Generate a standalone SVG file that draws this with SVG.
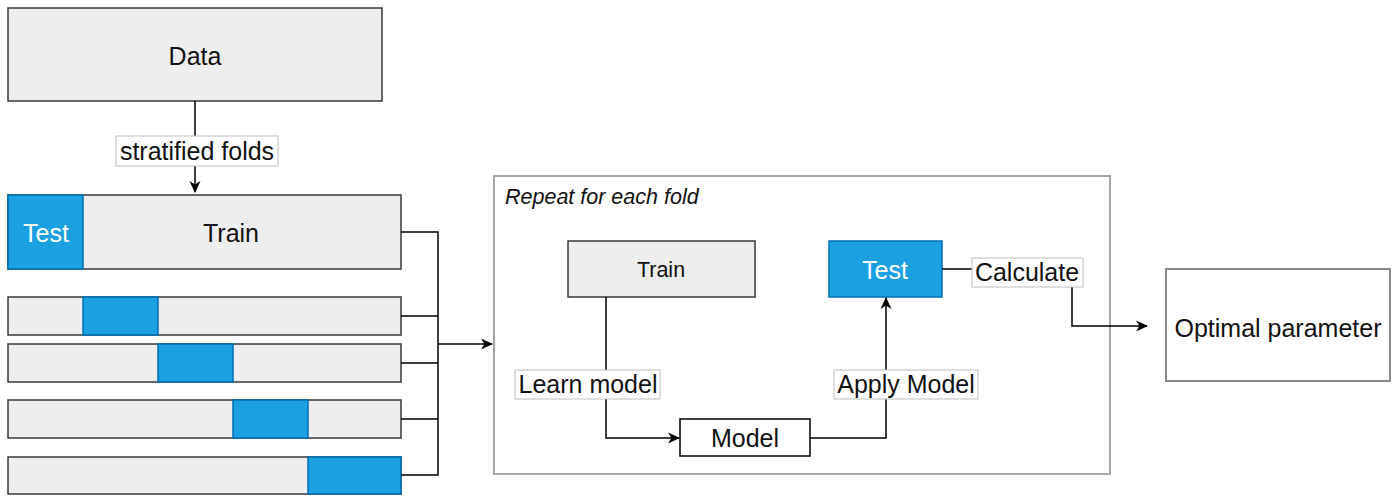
<svg xmlns="http://www.w3.org/2000/svg" width="1397" height="496" viewBox="0 0 1397 496">
<style>
text{font-family:"Liberation Sans",Arial,sans-serif;font-size:25px;fill:#111;text-anchor:middle}
.g{fill:#eeeeee;stroke:#36393d;stroke-width:1.5}
.b{fill:#1ba1e2;stroke:#006eaf;stroke-width:1.5}
.w{fill:#fff}
.lbl{fill:#fff;stroke:#bdbdbd;stroke-width:1}
.e{fill:none;stroke:#000;stroke-width:1.5}
</style>
<defs>
<marker id="ah" markerWidth="14" markerHeight="14" refX="12" refY="7" orient="auto" markerUnits="userSpaceOnUse">
<path d="M1,1.5 L13,7 L1,12.5 L4.5,7 Z" fill="#000"/>
</marker>
</defs>
<g id="data"><rect class="g" x="8" y="8" width="374" height="93"/><text x="195" y="65">Data</text></g>
<g id="fold1"><rect class="g" x="8" y="195" width="393" height="74"/><rect class="b" x="8" y="195" width="75" height="74"/><text class="w" x="46" y="242">Test</text><text x="231" y="242">Train</text></g>
<g id="fold2"><rect class="g" x="8" y="297" width="393" height="38"/><rect class="b" x="83" y="297" width="75" height="38"/></g>
<g id="fold3"><rect class="g" x="8" y="344" width="393" height="38"/><rect class="b" x="158" y="344" width="75" height="38"/></g>
<g id="fold4"><rect class="g" x="8" y="400" width="393" height="38"/><rect class="b" x="233" y="400" width="75" height="38"/></g>
<g id="fold5"><rect class="g" x="8" y="457" width="393" height="37"/><rect class="b" x="308" y="457" width="93" height="37"/></g>
<g id="container"><rect x="494" y="176" width="616" height="298" fill="#fff" stroke="#a6a6a6" stroke-width="2"/><text x="505" y="204" style="font-size:21.5px;font-style:italic;text-anchor:start">Repeat for each fold</text></g>
<g id="train"><rect class="g" x="568" y="241" width="187" height="56"/><text x="661" y="277" style="font-size:21.5px">Train</text></g>
<g id="test"><rect class="b" x="829" y="241" width="113" height="56"/><text class="w" x="885" y="279">Test</text></g>
<g id="model"><rect x="680" y="419" width="130" height="37" fill="#fff" stroke="#000" stroke-width="1.5"/><text x="745" y="447">Model</text></g>
<g id="optimal"><rect x="1166" y="269" width="224" height="112" fill="#fff" stroke="#888" stroke-width="2"/><text x="1278" y="337">Optimal parameter</text></g>
<g id="connectors">
<path class="e" d="M195,101 V192" marker-end="url(#ah)"/>
<rect class="lbl" x="116" y="136" width="162" height="30"/><text x="197" y="160">stratified folds</text>
<path class="e" d="M401,232 H438 V475 H401 M401,316 H438 M401,363 H438 M401,419 H438"/>
<path class="e" d="M438,344 H492" marker-end="url(#ah)"/>
<path class="e" d="M606,297 V438 H679" marker-end="url(#ah)"/>
<rect class="lbl" x="515" y="370" width="145" height="29"/><text x="588" y="393">Learn model</text>
<path class="e" d="M810,438 H886 V298" marker-end="url(#ah)"/>
<rect class="lbl" x="834" y="370" width="144" height="29"/><text x="906" y="393">Apply Model</text>
<path class="e" d="M942,269 H1072 V326 H1147" marker-end="url(#ah)"/>
<rect class="lbl" x="972" y="258" width="111" height="29"/><text x="1027" y="281">Calculate</text>
</g>
</svg>
